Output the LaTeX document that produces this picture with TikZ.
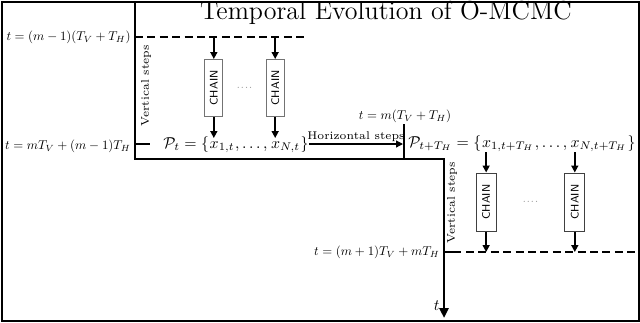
\documentclass[tikz,border=0pt]{standalone}
\usepackage{graphicx}
\usetikzlibrary{arrows.meta,calc}
\newcommand{\mylbl}[1]{\scalebox{0.64}{#1}}
\newcommand{\myset}[1]{\scalebox{0.79}{#1}}
\begin{document}
\begin{tikzpicture}[x=0.5pt,y=-0.5pt,
  thickline/.style={line width=1.4pt},
  dashline/.style={line width=0.9pt, dash pattern=on 4pt off 2.2pt},
  arr/.style={line width=0.8pt,-{Triangle[length=3.5pt,width=3.5pt]}},
  chainbox/.style={draw=black!55, line width=0.5pt, minimum width=9pt, minimum height=28.5pt, inner sep=0pt},
  chaintxt/.style={font=\fontsize{5.5}{6}\sffamily\selectfont, rotate=90, inner sep=0pt},
  lab/.style={font=\fontsize{10}{12}\selectfont, inner sep=0pt},
  steps/.style={font=\fontsize{5.6}{7}\selectfont, inner sep=1pt},
  setlab/.style={font=\fontsize{10}{12}\selectfont, inner sep=0pt, anchor=base west},
  dotlab/.style={font=\fontsize{5}{5}\selectfont, text=black!40, inner sep=0pt}]

\useasboundingbox (0,0) rectangle (640,322);
\draw[line width=1pt] (1.5,1.5) rectangle (638.5,320.5);

% title
\node[font=\fontsize{13}{15}\selectfont, inner sep=0pt] (title) at (386,13) {Temporal Evolution of O-MCMC};

% main thick time axis
\coordinate (top) at (135,2);
\coordinate (corner2) at (444,159);
\coordinate (tend) at (444,318);
\draw[thickline,-{Triangle[length=5pt,width=4.5pt]}] (top) |- (corner2) -- (tend);
\node[lab, anchor=south east] (tlab) at (440,311) {\myset{$t$}};

% top dashed line
\coordinate (dl1) at (135,37);
\coordinate (dl2) at (305,37);
\draw[dashline] (dl1) -- (dl2);
\node[lab, anchor=east] (l1) at (131,37) {\mylbl{$t=(m-1)(T_V+T_H)$}};

% P_t set, built from pieces
\node[setlab] (p0) at (163,148) {\myset{$\mathcal{P}_t=\{$}};
\node[setlab] (px1) at (p0.base east) {\myset{$x_{1,t}$}};
\node[setlab] (pd) at (px1.base east) {\myset{${},\ldots,{}$}};
\node[setlab] (pxn) at (pd.base east) {\myset{$x_{N,t}$}};
\node[setlab] (pe) at (pxn.base east) {\myset{$\}$}};
\coordinate (x1) at ($(px1.base west)+(4.5,-10)$);
\coordinate (x2) at ($(pxn.base west)+(4.5,-10)$);

% left chains
\node[chainbox] (c1) at (x1 |- 0,88) {};
\node[chaintxt] at (c1) {CHAIN};
\node[chainbox] (c2) at (x2 |- 0,88) {};
\node[chaintxt] at (c2) {CHAIN};
\node[dotlab] (dots1) at ($(c1)!0.5!(c2)$) {....};
\coordinate (a1) at (x1 |- dl1);
\coordinate (a2) at (x2 |- dl1);
\draw[arr] (a1) -- (c1.north);
\draw[arr] (a2) -- (c2.north);
\draw[arr] (c1.south) -- (x1);
\draw[arr] (c2.south) -- (x2);
\node[steps, rotate=90] (vs1) at (146,86) {Vertical steps};

% level t = mT_V+(m-1)T_H
\coordinate (s1) at (135,144);
\coordinate (s2) at (150,144);
\draw[line width=1pt] (s1) -- (s2);
\node[lab, anchor=east] (l2) at (131,146) {\mylbl{$t=mT_V+(m-1)T_H$}};

% horizontal step
\coordinate (vtop) at (404,124);
\coordinate (vbot) at (404,159);
\coordinate (vmid) at (403,144);
\draw[line width=0.7pt] (vtop) -- (vbot);
\draw[arr, line width=0.6pt] (pe.east |- vmid) -- (vmid) node[midway, above, steps] {Horizontal steps};
\node[lab] (l3) at (405,116) {\mylbl{$t=m(T_V+T_H)$}};

% P_{t+T_H} set
\node[setlab] (q0) at (408,147) {\myset{$\mathcal{P}_{t+T_H}=\{$}};
\node[setlab] (qx1) at (q0.base east) {\myset{$x_{1,t+T_H}$}};
\node[setlab] (qd) at (qx1.base east) {\myset{${},\ldots,{}$}};
\node[setlab] (qxn) at (qd.base east) {\myset{$x_{N,t+T_H}$}};
\node[setlab] (qe) at (qxn.base east) {\myset{$\}$}};
\coordinate (b1) at ($(qx1.base west)+(4.5,5)$);
\coordinate (b2) at ($(qxn.base west)+(4.5,5)$);

% right chains
\node[chainbox, draw=black!75, minimum width=10pt, minimum height=29pt] (c3) at (b1 |- 0,202) {};
\node[chaintxt] at (c3) {CHAIN};
\node[chainbox, draw=black!75, minimum width=10pt, minimum height=29pt] (c4) at (b2 |- 0,202) {};
\node[chaintxt] at (c4) {CHAIN};
\node[dotlab] (dots2) at ($(c3)!0.5!(c4)$) {....};
\coordinate (r1) at (444,252);
\coordinate (e1) at (b1 |- r1);
\coordinate (e2) at (b2 |- r1);
\draw[arr] (b1) -- (c3.north);
\draw[arr] (b2) -- (c4.north);
\draw[arr] (c3.south) -- (e1);
\draw[arr] (c4.south) -- (e2);
\node[steps, rotate=90] (vs2) at (452,203) {Vertical steps};

% bottom dashed line
\coordinate (r2) at (461,252);
\coordinate (r3) at (466,252);
\coordinate (r4) at (637,252);
\draw[line width=1pt] (r1) -- (r2);
\draw[dashline] (r3) -- (r4);
\node[lab, anchor=east] (l4) at (440,252) {\mylbl{$t=(m+1)T_V+mT_H$}};
\end{tikzpicture}
\end{document}
